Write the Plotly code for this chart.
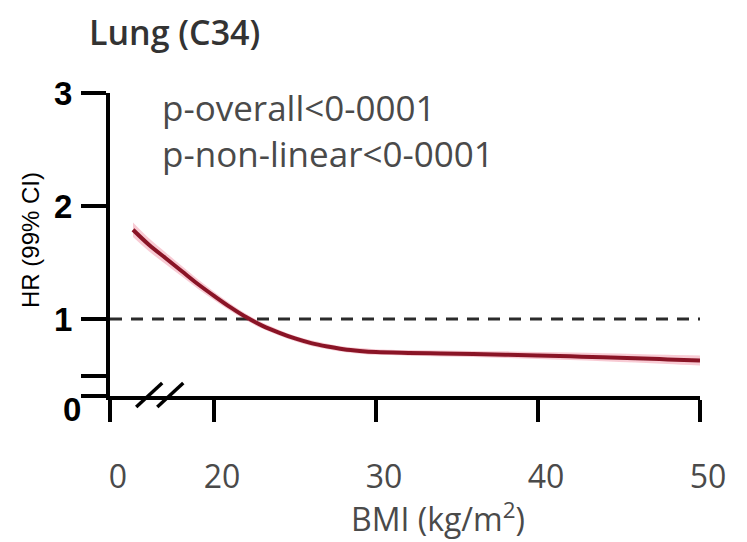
import plotly.graph_objects as go

# Restricted cubic spline estimate of lung cancer (C34) hazard by BMI
bmi = [15, 16, 17, 18, 19, 20, 21, 22, 23, 24, 25, 26, 27, 28, 29, 30,
       32, 34, 36, 38, 40, 42, 44, 46, 48, 50]
hr = [1.79, 1.655, 1.54, 1.425, 1.31, 1.205, 1.105, 1.015, 0.94, 0.88, 0.828,
      0.787, 0.757, 0.733, 0.718, 0.708, 0.70, 0.695, 0.69, 0.685, 0.678,
      0.67, 0.662, 0.653, 0.643, 0.633]
ci_half = [0.065, 0.058, 0.052, 0.046, 0.041, 0.036, 0.032, 0.029, 0.027, 0.026,
           0.025, 0.025, 0.025, 0.025, 0.025, 0.025, 0.025, 0.026, 0.027,
           0.029, 0.031, 0.033, 0.035, 0.038, 0.041, 0.045]
hr_lower = [h - c for h, c in zip(hr, ci_half)]
hr_upper = [h + c for h, c in zip(hr, ci_half)]

x_tick_vals = [13.58, 20, 30, 40, 50]
x_tick_text = ["0", "20", "30", "40", "50"]
y_tick_vals = [0.319, 0.5, 1, 2, 3]
y_tick_text = ["", "", "1", "2", "3"]
reference_hr = 1.0
p_text = "p-overall<0-0001<br>p-non-linear<0-0001"

X_RANGE = [13.58, 50]
Y_RANGE = [0.319, 3.0]
W, H = 747, 542
M = dict(l=110, r=47, t=93, b=146)
PW = W - M["l"] - M["r"]
PH = H - M["t"] - M["b"]

GRAY = "#4a4a4a"
SANS = "Open Sans, sans-serif"
ARIAL = "Liberation Sans, Arial, sans-serif"

fig = go.Figure()

# 99% confidence band
fig.add_trace(go.Scatter(x=bmi, y=hr_upper, mode="lines", line=dict(width=0, shape="spline"),
                         hoverinfo="skip", showlegend=False))
fig.add_trace(go.Scatter(x=bmi, y=hr_lower, mode="lines", line=dict(width=0, shape="spline"),
                         fill="tonexty", fillcolor="rgba(240,140,160,0.45)",
                         hoverinfo="skip", showlegend=False))
# Reference line at HR = 1
fig.add_trace(go.Scatter(x=X_RANGE, y=[reference_hr, reference_hr], mode="lines",
                         line=dict(color="#2b2b2b", width=3, dash="12px,9px"),
                         hoverinfo="skip", showlegend=False))
# Point estimate
fig.add_trace(go.Scatter(x=bmi, y=hr, mode="lines", line=dict(color="#8a1426", width=4,
                         shape="spline"), showlegend=False))


def px_x(v):
    return (v - X_RANGE[0]) / (X_RANGE[1] - X_RANGE[0])


# Axis break marks on the x-axis
for bx in (16.0, 17.3):
    fig.add_shape(type="line", xref="paper", yref="paper",
                  x0=px_x(bx) - 13 / PW, x1=px_x(bx) + 13 / PW,
                  y0=-11 / PH, y1=13 / PH,
                  line=dict(color="black", width=3.5))

fig.update_layout(
    width=W, height=H, margin=M,
    paper_bgcolor="white", plot_bgcolor="white",
    showlegend=False,
    xaxis=dict(range=X_RANGE, tickvals=x_tick_vals, ticktext=x_tick_text,
               showline=True, linecolor="black", linewidth=4,
               ticks="outside", ticklen=22, tickwidth=4, tickcolor="black",
               showgrid=False, zeroline=False, automargin=False,
               ticklabelstandoff=28, ticklabelshift=8,
               tickfont=dict(family=SANS, size=32, color=GRAY)),
    yaxis=dict(range=Y_RANGE, tickvals=y_tick_vals, ticktext=y_tick_text,
               showline=True, linecolor="black", linewidth=4,
               ticks="outside", ticklen=25, tickwidth=4, tickcolor="black",
               showgrid=False, zeroline=False, automargin=False,
               ticklabelstandoff=2,
               tickfont=dict(family=ARIAL, size=33, color="black", weight="bold")),
    annotations=[
        dict(text="Lung (C34)", xref="paper", yref="paper",
             x=(87 - M["l"]) / PW, y=1 + (M["t"] - 32) / PH,
             xanchor="left", yanchor="middle", showarrow=False,
             font=dict(family=SANS, size=34, color="#333333", weight=600)),
        dict(text=p_text, xref="paper", yref="paper",
             x=(160 - M["l"]) / PW, y=1 + (M["t"] - 82) / PH,
             xanchor="left", yanchor="top", align="left", showarrow=False,
             font=dict(family=SANS, size=35, color=GRAY)),
        dict(text="0", xref="paper", yref="paper",
             x=(83 - M["l"]) / PW, y=(396 - 410) / PH,
             xanchor="right", yanchor="middle", showarrow=False,
             font=dict(family=ARIAL, size=33, color="black", weight="bold")),
        dict(text="HR (99% CI)", xref="paper", yref="paper",
             x=(30 - M["l"]) / PW, y=(396 - 240) / PH, textangle=-90,
             xanchor="center", yanchor="middle", showarrow=False,
             font=dict(family=ARIAL, size=24, color="black")),
        dict(text="BMI (kg/m<sup>2</sup>)", xref="paper", yref="paper",
             x=(438 - M["l"]) / PW, y=-(517 - 396) / PH,
             xanchor="center", yanchor="middle", showarrow=False,
             font=dict(family=SANS, size=32, color=GRAY)),
    ],
)

fig.write_html("out.html")
